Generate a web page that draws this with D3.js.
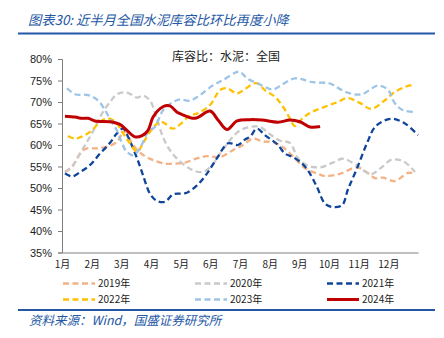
<!DOCTYPE html>
<html><head><meta charset="utf-8">
<script src="https://cdn.jsdelivr.net/npm/d3@7"></script>
<style>
html,body{margin:0;padding:0;background:#fff;}
svg{display:block;}
</style></head>
<body>
<svg id="c" width="444" height="338"></svg>
<script>
// ---- data (x = month position, 1 = start of Jan, 13 = end of Dec) ----
const monthTicks = [1,2,3,4,5,6,7,8,9,10,11,12];
const monthLabels = ["1月","2月","3月","4月","5月","6月","7月","8月","9月","10月","11月","12月"];
const yTicks = [35,40,45,50,55,60,65,70,75,80];

const x2019 = [1.10,1.34,1.61,1.84,2.18,2.52,2.85,3.02,3.16,3.33,3.63,4.03,4.47,4.88,5.11,5.55,5.89,6.33,6.76,7.10,7.44,7.77,8.11,8.45,8.75,9.22,9.63,9.86,10.37,10.94,11.31,11.55,11.82,12.22,12.66,12.90];
const v2019 = [53.7,54.9,58.0,59.2,59.2,59.6,60.7,62.5,63.2,60.7,58.2,56.6,55.7,55.7,55.8,56.9,57.4,57.2,58.8,60.0,61.5,60.8,60.7,59.5,57.6,54.5,53.3,52.8,53.3,54.8,53.5,52.3,52.4,51.6,53.5,53.4];

const x2020 = [1.10,1.37,1.71,2.04,2.38,2.62,2.85,3.19,3.53,3.73,3.97,4.20,4.47,4.81,5.31,5.72,6.06,6.33,6.66,7.00,7.34,7.67,8.01,8.35,8.68,8.95,9.26,9.70,10.13,10.47,10.91,11.41,11.72,12.12,12.53,12.90];
const v2020 = [53.7,55.3,59.2,63.1,67.7,70.0,71.8,72.2,71.0,71.5,70.3,66.0,60.8,57.3,54.5,53.7,55.3,58.0,61.1,63.4,64.2,64.2,62.5,61.0,60.5,57.0,55.3,54.8,55.9,56.8,55.4,53.2,54.5,56.6,56.1,53.7];

const x2021 = [1.10,1.34,1.61,1.94,2.28,2.62,2.85,3.06,3.22,3.53,3.73,3.97,4.20,4.47,4.74,4.98,5.21,5.55,5.89,6.22,6.60,6.93,7.17,7.34,7.57,7.84,8.08,8.28,8.52,8.79,9.09,9.29,9.59,9.86,10.10,10.44,10.64,10.94,11.28,11.58,12.09,12.56,13.00];
const v2021 = [53.4,52.7,53.7,55.3,58.0,60.5,62.7,63.8,62.0,56.9,53.0,48.6,47.0,46.8,48.5,48.7,48.9,50.6,53.4,56.9,60.4,60.0,61.3,61.9,63.8,62.3,61.1,60.0,58.0,57.2,55.7,54.1,50.3,46.4,45.6,46.0,49.7,54.5,60.4,64.4,66.1,65.0,62.3];

const x2022 = [1.20,1.44,1.71,2.01,2.28,2.52,2.79,3.06,3.29,3.53,3.73,3.97,4.30,4.47,4.74,5.08,5.31,5.55,5.99,6.33,6.56,6.90,7.17,7.54,7.88,8.18,8.45,8.68,8.85,9.12,9.43,9.86,10.30,10.61,11.04,11.41,11.85,12.19,12.56,12.83];
const v2022 = [62.1,61.5,62.1,63.4,65.4,66.2,65.4,62.7,60.4,58.4,60.4,63.1,65.4,65.0,63.8,65.4,66.9,67.3,69.3,72.8,73.2,72.0,73.0,74.4,72.5,71.2,68.9,66.2,64.4,66.3,67.7,68.9,70.0,70.9,69.8,68.4,70.2,72.2,73.5,74.0];

const x2023 = [1.17,1.44,1.88,2.21,2.45,2.62,2.82,2.99,3.16,3.39,3.53,3.70,3.90,4.13,4.40,4.74,4.98,5.31,5.65,6.09,6.43,6.83,7.00,7.24,7.61,7.84,8.11,8.41,8.85,9.46,10.03,10.37,10.71,11.11,11.65,11.99,12.22,12.49,12.83];
const v2023 = [73.2,71.8,71.6,70.4,68.1,66.0,63.8,61.0,58.6,57.6,58.3,60.2,63.1,64.2,68.0,70.0,70.6,70.3,71.6,73.9,75.1,76.8,77.0,75.5,74.3,73.5,72.9,74.0,75.5,74.6,74.3,73.0,72.0,71.8,73.8,72.8,69.7,68.1,67.7];

const x2024 = [1.10,1.44,1.67,1.88,2.11,2.62,2.95,3.19,3.46,3.70,3.90,4.07,4.40,4.64,4.88,4.98,5.48,5.99,6.26,6.56,6.90,7.34,7.74,8.28,8.68,9.02,9.36,9.70];
const v2024 = [66.7,66.5,66.2,66.2,65.6,65.4,64.8,63.4,61.9,62.2,63.4,66.5,68.9,69.1,67.6,67.3,66.2,67.9,65.8,63.6,65.6,65.9,65.8,65.3,65.8,65.4,64.2,64.3];

const seriesNames = ["2019年","2020年","2021年","2022年","2023年","2024年"];
const seriesX = [x2019,x2020,x2021,x2022,x2023,x2024];
const seriesV = [v2019,v2020,v2021,v2022,v2023,v2024];
const colors = ["#F4B183","#C9C9C9","#0E449A","#FFC000","#9DC3E6","#C00000"];
const dashed = [true,true,true,true,true,false];

// ---- drawing ----
const svg = d3.select("#c");
const blue = "#2457A5";
const cjk = "'Noto Sans CJK SC', 'Liberation Sans', sans-serif";
const lat = "'Liberation Sans', Arial, sans-serif";

// title
svg.append("text").attr("x",28).attr("y",25)
  .attr("font-family",cjk).attr("font-style","italic").attr("font-size",13.3)
  .attr("fill",blue).text("图表30:  近半月全国水泥库容比环比再度小降");
svg.append("line").attr("x1",18).attr("x2",435).attr("y1",33.5).attr("y2",33.5)
  .attr("stroke",blue).attr("stroke-width",2);

// chart title
svg.append("text").attr("x",226).attr("y",61).attr("text-anchor","middle")
  .attr("font-family",cjk).attr("font-size",12).attr("fill","#222")
  .text("库容比：水泥：全国");

const x = d3.scaleLinear().domain([1,13]).range([62,418]);
const y = d3.scaleLinear().domain([35,80]).range([252.5,59]);

// y axis
const yAxis = svg.append("g").attr("transform","translate(62,0)")
  .call(d3.axisLeft(y).tickValues(yTicks).tickSize(4).tickFormat(d=>d+"%"));
yAxis.select(".domain").attr("stroke","#7f7f7f");
yAxis.selectAll(".tick line").attr("stroke","#7f7f7f");
yAxis.selectAll("text").attr("font-family",lat).attr("font-size",11).attr("fill","#222").attr("x",-10);

// x axis
const xAxis = svg.append("g").attr("transform","translate(0,252.5)")
  .call(d3.axisBottom(x).tickValues(monthTicks).tickSize(0).tickFormat((d,i)=>monthLabels[i]));
xAxis.select(".domain").attr("stroke","#7f7f7f");
xAxis.selectAll("text").attr("font-family",cjk).attr("font-size",10).attr("fill","#222").attr("dy","0.71em").attr("y",8);

// lines
const line = d3.line().curve(d3.curveCatmullRom.alpha(0.5));
seriesNames.forEach((n,i)=>{
  const pts = seriesX[i].map((m,j)=>[x(m),y(seriesV[i][j])]);
  svg.append("path").attr("d",line(pts)).attr("fill","none")
    .attr("stroke",colors[i]).attr("stroke-width",dashed[i]?2.3:3)
    .attr("stroke-dasharray",dashed[i]?"6,3.5":null)
    .attr("stroke-linejoin","round");
});

// legend
const legX = [63,195,327];
const legY = [283.5,299.5];
seriesNames.forEach((n,i)=>{
  const lx = legX[i%3], ly = legY[Math.floor(i/3)];
  svg.append("line").attr("x1",lx).attr("x2",lx+32).attr("y1",ly).attr("y2",ly)
    .attr("stroke",colors[i]).attr("stroke-width",dashed[i]?2.3:3)
    .attr("stroke-dasharray",dashed[i]?"6,3.5":null);
  svg.append("text").attr("x",lx+35).attr("y",ly+3.5)
    .attr("font-family",cjk).attr("font-size",10).attr("fill","#222").text(n);
});

// bottom rule + source
svg.append("line").attr("x1",18).attr("x2",435).attr("y1",310).attr("y2",310)
  .attr("stroke",blue).attr("stroke-width",2);
svg.append("text").attr("x",29).attr("y",325)
  .attr("font-family",cjk).attr("font-style","italic").attr("font-size",12.5)
  .attr("fill",blue).text("资料来源：Wind，国盛证券研究所");
</script>
</body></html>
